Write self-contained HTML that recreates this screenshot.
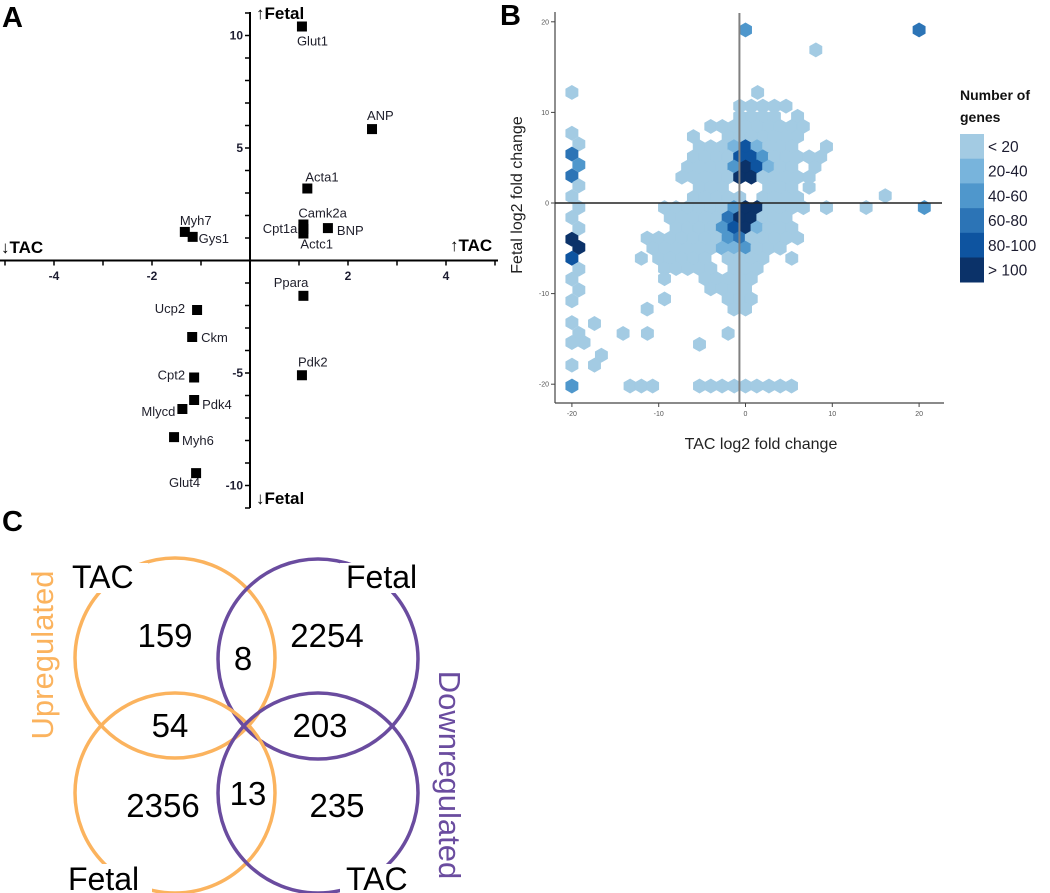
<!DOCTYPE html>
<html><head><meta charset="utf-8"><style>
html,body{margin:0;padding:0;background:#fff;}
svg{display:block;font-family:"Liberation Sans",Arial,sans-serif;}
</style></head><body>
<svg id="fig" width="1050" height="893" viewBox="0 0 1050 893">
<g id="panelA">
<text x="2" y="27" font-size="29" font-weight="bold">A</text>
</g>
<g id="panelB">
<text x="500" y="25" font-size="29" font-weight="bold">B</text>
</g>
<g id="panelC">
<text x="2" y="531" font-size="29" font-weight="bold">C</text>
</g>
</svg>
<script>
// ---------- Panel A data ----------
const geneNames = ["Glut1","ANP","Acta1","Camk2a","Cpt1a","BNP","Actc1","Myh7","Gys1","Ppara","Ucp2","Ckm","Cpt2","Pdk4","Mlycd","Myh6","Glut4","Pdk2"];
const tacFC   = [1.06,2.49,1.17,1.09,1.09,1.59,1.09,-1.33,-1.17,1.09,-1.08,-1.18,-1.14,-1.14,-1.38,-1.55,-1.1,1.06];
const fetalFC = [10.4,5.84,3.2,1.6,1.4,1.44,1.2,1.27,1.05,-1.57,-2.2,-3.4,-5.2,-6.2,-6.6,-7.85,-9.45,-5.1];
const xTicksA = [-4,-2,2,4];
const yTicksA = [10,5,-5,-10];
const labelOffsetsA = [[-5,19,"start"],[-5,-9,"start"],[-2,-7,"start"],[-5,-7,"start"],[-6,4,"end"],[9,7,"start"],[-3,15,"start"],[-5,-7,"start"],[6,6,"start"],[5,-9,"end"],[-12,3,"end"],[9,5,"start"],[-9,2,"end"],[8,9,"start"],[-7,7,"end"],[8,8,"start"],[4,14,"end"],[-4,-9,"start"]];

// ---------- Panel B data ----------
const xTicksB = [-20,-10,0,10,20];
const yTicksB = [20,10,0,-10,-20];
const legendLabels = ["< 20","20-40","40-60","60-80","80-100","> 100"];
const levelColors = ["#a3cbe3","#78b4dc","#4f97cc","#2c74b6","#0e54a0","#0b3269"];
const spanFetal = [10.69,9.57,9.57,8.45,8.45,7.33,7.33,
 6.21,6.21,6.21,6.21,6.21,6.21,
 5.09,5.09,5.09,5.09,5.09,5.09,
 3.97,3.97,3.97,3.97,3.97,3.97,3.97,
 2.85,2.85,2.85,2.85,2.85,
 1.73,1.73,1.73, 0.61,0.61,
 -0.51,-0.51,-0.51,-0.51,-0.51,-0.51,-0.51,-0.51,
 -1.63,-1.63,-1.63,-1.63,-1.63,
 -2.75,-2.75,-2.75,-2.75,-2.75,-2.75,
 -3.87,-3.87,-3.87,-3.87,-3.87,-3.87,
 -4.99,-4.99,-4.99,-4.99,
 -6.11,-6.11,-6.11,-6.11,-6.11,
 -7.23,-7.23, -8.35,-8.35, -9.47, -10.59,-10.59, -11.71,-11.71];
const spanFrom = [-0.67,-0.67,6,-4,-2.67,-6,-2,
 -5.33,-1.33,0,1.33,2.67,9.33,
 -6,-0.67,0.67,2,3.33,6,
 -6.67,-1.33,0,1.33,2.67,4,8,
 -7.33,-0.67,0.67,2,7.33,
 -5.33,2.67,7.33, -6,2,
 -9.33,-8,-1.33,0,1.33,2.67,6.67,9.33,
 -8.67,-2,-0.67,0.67,2,
 -8,-2.67,-1.33,0,1.33,2.67,
 -11.33,-10,-2,-0.67,0.67,6,
 -10.67,-2.67,0,1.33,
 -12,-10,-2,0.67,5.33,
 -9.33,-1.33, -9.33,-4.67, -4, -9.33,-2, -11.33,-1.33];
const spanTo = [4.67,3.33,6,-4,6.67,-6,6,
 -2.67,-1.33,0,1.33,5.33,9.33,
 -2,-0.67,0.67,2,4.67,8.67,
 -2.67,-1.33,0,1.33,2.67,5.33,8,
 -2,-0.67,0.67,6,7.33,
 -2.67,5.33,7.33, -0.67,6,
 -9.33,-2.67,-1.33,0,1.33,5.33,6.67,9.33,
 -3.33,-2,-0.67,0.67,4.67,
 -4,-2.67,-1.33,0,1.33,5.33,
 -11.33,-3.33,-2,-0.67,4.67,6,
 -4,-1.33,0,4,
 -12,-4.67,-0.67,2,5.33,
 -4,1.33, -9.33,0.67, 0, -9.33,0.67, -11.33,0];
const spanLevel = [0,0,0,0,0,0,0,
 0,1,4,1,0,0,
 0,4,4,2,0,0,
 0,2,5,4,1,0,0,
 0,5,5,0,0,
 0,0,0, 0,0,
 0,0,2,5,5,0,0,0,
 0,3,5,5,0,
 0,2,4,5,1,0,
 0,0,2,3,0,0,
 0,1,2,0,
 0,0,0,0,0,
 0,0, 0,0, 0, 0,0, 0,0];
const hexTac = [0,20,8.1,-20,1.4,16.1,13.9,20.6,-11.3,-14.1,-17.4,-16.6,-17.4,-5.3,-2,
 -13.3,-12,-10.7,-5.3,-4,-2.7,-1.3,0,1.3,2.7,4,5.3,
 -20,-19.2,-20,-19.2,-20,-19.2,-20,-19.2,-20,-19.2,-20,-19.2,-20,-19.2,-20,-19.2,-20,-20,-19.2,-20,-18.6,-20,-20];
const hexFetal = [19.1,19.1,16.9,12.2,12.2,0.8,-0.5,-0.5,-14.4,-14.4,-13.3,-16.8,-17.9,-15.6,-14.4,
 -20.2,-20.2,-20.2,-20.2,-20.2,-20.2,-20.2,-20.2,-20.2,-20.2,-20.2,-20.2,
 7.7,6.5,5.4,4.2,3.0,1.9,0.7,-0.5,-1.6,-2.8,-4.0,-4.9,-6.1,-7.3,-8.4,-9.6,-10.8,-13.2,-14.4,-15.4,-15.4,-17.9,-20.2];
const hexLevel = [2,3,0,0,0,0,0,2,0,0,0,0,0,0,0,
 0,0,0,0,0,0,0,0,0,0,0,0,
 0,0,3,2,3,0,0,0,0,0,5,5,4,0,0,0,0,0,0,0,0,0,2];

// ---------- Panel C data ----------
const vennCounts = ["159","8","2254","54","203","2356","13","235"];

const NS = "http://www.w3.org/2000/svg";
function mk(tag, attrs, parent, txt){
  const e = document.createElementNS(NS, tag);
  for (const k in attrs) e.setAttribute(k, attrs[k]);
  if (txt !== undefined) e.textContent = txt;
  parent.appendChild(e);
  return e;
}

// ===== Panel A =====
const gA = document.getElementById("panelA");
const xA = v => 250 + 49 * v;
const yA = v => 260.5 - 22.5 * v;
let el;
el = mk("line", {x1:0, y1:260.5, x2:498, y2:260.5, stroke:"#000", "stroke-width":2}, gA);


el = mk("line", {x1:250, y1:12, x2:250, y2:508, stroke:"#000", "stroke-width":2}, gA);


for (let v = -5; v <= 5; v++) {
  if (v === 0) continue;
  el = mk("line", {x1:xA(v), y1:260.5, x2:xA(v), y2:265.5, stroke:"#000", "stroke-width":1.5}, gA);
  
  
}
for (let v = -11; v <= 11; v++) {
  if (v === 0) continue;
  el = mk("line", {x1:245, y1:yA(v), x2:250, y2:yA(v), stroke:"#000", "stroke-width":1.5}, gA);
  
  
}
xTicksA.forEach(v => {
  el = mk("text", {x:xA(v), y:280, "font-size":12, "font-weight":"bold", "text-anchor":"middle", fill:"#1c1c30"}, gA, String(v));
  
  
});
yTicksA.forEach(v => {
  el = mk("text", {x:243, y:yA(v)+4, "font-size":12, "font-weight":"bold", "text-anchor":"end", fill:"#1c1c30"}, gA, String(v));
  
  
});
el = mk("text", {x:256, y:19, "font-size":17, "font-weight":"bold"}, gA, "\u2191Fetal");


el = mk("text", {x:256, y:504, "font-size":17, "font-weight":"bold"}, gA, "\u2193Fetal");


el = mk("text", {x:1, y:253, "font-size":17, "font-weight":"bold"}, gA, "\u2193TAC");


el = mk("text", {x:450, y:251, "font-size":17, "font-weight":"bold"}, gA, "\u2191TAC");


geneNames.forEach((g, i) => {
  const cx = xA(tacFC[i]), cy = yA(fetalFC[i]);
  el = mk("rect", {x:cx-5, y:cy-5, width:10, height:10, fill:"#000"}, gA);
  
  
  const o = labelOffsetsA[i];
  el = mk("text", {x:cx+o[0], y:cy+o[1], "font-size":13, "text-anchor":o[2], fill:"#1e1e2a"}, gA, g);
  
  
});

// ===== Panel B =====
const gB = document.getElementById("panelB");
const xB = v => 745.5 + 8.68 * v;
const yB = v => 203 - 9.06 * v;
const HR = 7.1;
function hexPts(cx, cy){
  const p = [];
  for (let a = 0; a < 6; a++) {
    const t = Math.PI / 180 * (60 * a - 90);
    p.push((cx + HR * Math.cos(t)).toFixed(2) + "," + (cy + HR * Math.sin(t)).toFixed(2));
  }
  return p.join(" ");
}
const hexG = mk("g", {}, gB);


const STEP = 1.3333;
for (let i = 0; i < spanFetal.length; i++) {
  for (let t = spanFrom[i]; t <= spanTo[i] + 0.01; t += STEP) {
    el = mk("polygon", {points:hexPts(xB(t), yB(spanFetal[i])), fill:levelColors[spanLevel[i]], stroke:levelColors[spanLevel[i]], "stroke-width":0.6}, hexG);
    
    
  }
}
for (let i = 0; i < hexTac.length; i++) {
  el = mk("polygon", {points:hexPts(xB(hexTac[i]), yB(hexFetal[i])), fill:levelColors[hexLevel[i]], stroke:levelColors[hexLevel[i]], "stroke-width":0.6}, hexG);
  
  
}
el = mk("line", {x1:555, y1:12, x2:555, y2:403, stroke:"#444", "stroke-width":1.2}, gB);


el = mk("line", {x1:555, y1:403, x2:944, y2:403, stroke:"#444", "stroke-width":1.2}, gB);


el = mk("line", {x1:xB(-0.7), y1:13, x2:xB(-0.7), y2:403, stroke:"#808080", "stroke-width":2}, gB);


el = mk("line", {x1:555, y1:yB(0), x2:942, y2:yB(0), stroke:"#222", "stroke-width":1.6}, gB);


xTicksB.forEach(v => {
  el = mk("line", {x1:xB(v), y1:403, x2:xB(v), y2:407, stroke:"#444"}, gB);
  
  
  el = mk("text", {x:xB(v), y:416, "font-size":7, "text-anchor":"middle", fill:"#555"}, gB, String(v));
  
  
});
yTicksB.forEach(v => {
  el = mk("line", {x1:551, y1:yB(v), x2:555, y2:yB(v), stroke:"#444"}, gB);
  
  
  el = mk("text", {x:549, y:yB(v)+2.5, "font-size":7, "text-anchor":"end", fill:"#555"}, gB, String(v));
  
  
});
el = mk("text", {x:761, y:449, "font-size":16, "text-anchor":"middle", fill:"#222"}, gB, "TAC log2 fold change");


el = mk("text", {x:0, y:0, "font-size":16, "text-anchor":"middle", fill:"#222", transform:"translate(522,195) rotate(-90)"}, gB, "Fetal log2 fold change");


el = mk("text", {x:960, y:100, "font-size":14, "font-weight":"bold", fill:"#111"}, gB, "Number of");


el = mk("text", {x:960, y:122, "font-size":14, "font-weight":"bold", fill:"#111"}, gB, "genes");


legendLabels.forEach((lab, i) => {
  const y = 134 + i * 24.7;
  el = mk("rect", {x:960, y:y, width:24, height:25, fill:levelColors[i]}, gB);
  
  
  el = mk("text", {x:988, y:y+18, "font-size":15.5, fill:"#1c1c30"}, gB, lab);
  
  
});

// ===== Panel C =====
const gC = document.getElementById("panelC");
const ORANGE = "#fbb35e", PURPLE = "#6a4c9f";
const circles = [[175,658,ORANGE,"venn-tac-up"],[318,659,PURPLE,"venn-fetal-down"],[175,793,ORANGE,"venn-fetal-up"],[318,793,PURPLE,"venn-tac-down"]];
circles.forEach(c => {
  el = mk("circle", {cx:c[0], cy:c[1], r:100, fill:"none", stroke:c[2], "stroke-width":3.5}, gC);
  
  
});
const setLabels = [[72,588,"TAC",66,563,82],[346,588,"Fetal",340,563,88],[68,890,"Fetal",62,864,90],[346,890,"TAC",340,864,80]];
setLabels.forEach(s => {
  el = mk("rect", {x:s[3], y:s[4], width:s[5], height:30, fill:"#fff"}, gC);
  
  
  el = mk("text", {x:s[0], y:s[1], "font-size":32, fill:"#000"}, gC, s[2]);
  
  
});
const countPos = [[165,647],[243,670],[327,647],[170,737],[320,737],[163,817],[248,805],[337,817]];
vennCounts.forEach((v, i) => {
  el = mk("text", {x:countPos[i][0], y:countPos[i][1], "font-size":33, "text-anchor":"middle", fill:"#000"}, gC, v);
  
  
});
el = mk("text", {x:0, y:0, "font-size":31, "text-anchor":"middle", fill:ORANGE, transform:"translate(53,655) rotate(-90)"}, gC, "Upregulated");


el = mk("text", {x:0, y:0, "font-size":31, "text-anchor":"middle", fill:PURPLE, transform:"translate(439,775) rotate(90)"}, gC, "Downregulated");


</script>
</body></html>
